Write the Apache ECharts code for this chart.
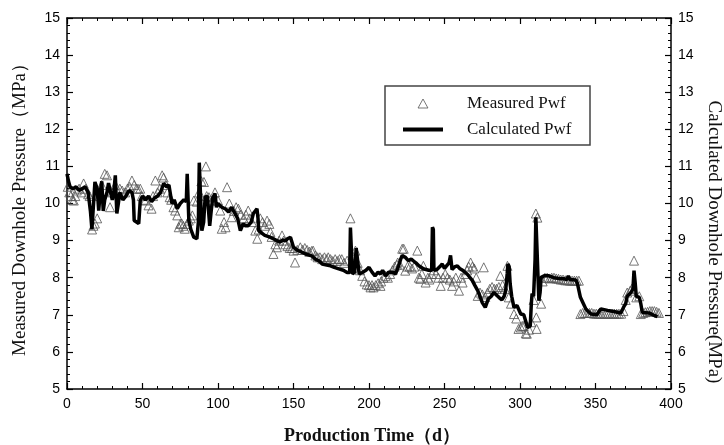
<!DOCTYPE html>
<html>
<head>
<meta charset="utf-8">
<script src="https://cdn.jsdelivr.net/npm/echarts@6/dist/echarts.min.js"></script>
<style>html,body{margin:0;padding:0;background:#fff}#c{width:724px;height:445px}</style>
</head>
<body>
<div id="c"></div>
<script>
// Measured Pwf: [day, MPa]
var measured = [[0.5,10.45],[1.5,10.3],[2.5,10.2],[3.5,10.1],[4.5,10.08],[5.5,10.2],[6.5,10.35],[8,10.4],[9.5,10.3],[11,10.54],[12.5,10.4],[14,10.25],[15,10.2],[16.6,9.3],[17.5,9.4],[18.5,9.46],[20,9.6],[21.5,10.2],[23,10.5],[25,10.8],[26.5,10.76],[28.5,9.9],[30,10.3],[32,10.5],[33.5,10.3],[35,10.4],[36.5,10.35],[38.5,10.3],[40,10.4],[41.5,10.45],[43,10.62],[44.5,10.5],[46,10.4],[47,10.4],[48.5,10.4],[49.5,10.2],[51,10.1],[52,10.08],[54,9.95],[56,9.86],[57,10.2],[58.5,10.62],[60,10.3],[61.5,10.4],[63,10.76],[64,10.7],[65.5,10.5],[66.5,10.3],[68,10.17],[69,10.1],[70.5,9.9],[71.6,9.81],[73,9.68],[74,9.36],[75,9.45],[76,9.46],[77,9.4],[78,9.32],[79.5,9.45],[80.7,9.54],[82,9.6],[83,9.68],[84,10.08],[86,10.05],[87.5,10.3],[89,10.6],[90.7,10.58],[92,11.0],[92.5,10.2],[94,10.17],[96,10.08],[98,10.3],[100,10.08],[101.5,9.81],[102.5,9.32],[104,9.5],[105,9.36],[106,10.44],[107.5,10.0],[109,9.63],[110.5,9.8],[112,9.9],[113.5,9.86],[115,9.7],[117,9.6],[118.5,9.7],[120,9.81],[121,9.6],[122.5,9.5],[124.7,9.27],[126,9.05],[127,9.3],[128,9.6],[129.5,9.5],[131,9.4],[132.5,9.54],[134,9.45],[134.7,9.23],[135.5,9.1],[136.7,8.64],[138,8.9],[139,8.82],[140.5,9.0],[142.4,9.14],[143.5,9.0],[144.6,8.9],[146,8.85],[147.5,8.8],[149,8.8],[150,8.73],[151,8.41],[152.5,8.75],[154.5,8.82],[156,8.75],[157.5,8.8],[159,8.75],[160.5,8.7],[162,8.72],[163,8.73],[164.5,8.6],[166,8.55],[167.5,8.55],[169,8.5],[170.5,8.55],[172,8.5],[173,8.55],[174.5,8.5],[176,8.45],[177.6,8.5],[179,8.45],[180.5,8.5],[182,8.5],[183.5,8.4],[185.5,8.46],[187.7,9.6],[189,8.6],[191,8.73],[192.5,8.4],[194,8.2],[195.5,8.05],[197,7.9],[198.5,7.82],[200,7.8],[201,7.74],[202,7.8],[203,7.74],[204.5,7.8],[206,7.85],[207.6,7.78],[208,7.9],[209.5,8.0],[211,8.05],[212.5,8.0],[214,8.1],[215.5,8.2],[217,8.3],[218.5,8.35],[219,8.41],[220.5,8.35],[222,8.78],[223,8.78],[224,8.19],[225.5,8.3],[227,8.3],[228.5,8.25],[230,8.3],[232,8.73],[233,8.0],[234,7.97],[235,8.1],[236,8.32],[237.5,7.87],[239,8.0],[240,7.95],[241.5,8.1],[243,8.2],[244.5,8.1],[246,8.0],[247.5,7.78],[249,8.0],[250.5,8.1],[252,8.0],[253.5,7.95],[255,7.78],[256,7.9],[257.5,8.0],[259.6,7.65],[261,8.0],[262,7.87],[263.5,8.1],[265,8.2],[266,8.3],[267.3,8.41],[268.5,8.3],[269.7,8.25],[271,8.0],[272,7.51],[273.5,7.6],[275,7.55],[276,8.28],[277,7.48],[278.5,7.6],[280,7.7],[281.5,7.75],[283,7.7],[284.5,7.7],[286,7.75],[287,8.05],[288.5,7.8],[290,7.7],[291.7,8.32],[292.6,7.47],[294,7.3],[296,7.02],[297.5,6.9],[299,6.62],[300.5,6.66],[301.5,6.7],[302.5,6.7],[303.8,6.5],[304.5,6.49],[306,6.6],[307.5,6.8],[309,7.4],[310.5,9.73],[311.5,9.62],[310.8,6.93],[311,6.62],[314,7.3],[315,7.9],[316.5,8.0],[318,8.0],[319.5,7.98],[321,8.0],[322.5,8.0],[324,7.98],[325.5,7.97],[327,7.95],[328.5,7.95],[330,7.93],[331.5,7.93],[333,7.92],[334.5,7.92],[336,7.92],[337.5,7.92],[339,7.92],[340,7.02],[341.5,7.05],[343,7.05],[344.5,7.05],[346,7.05],[347.5,7.05],[349,7.03],[350.5,7.03],[352,7.03],[353.5,7.03],[355,7.03],[356.5,7.03],[358,7.03],[359.5,7.03],[361,7.03],[362.5,7.03],[364,7.03],[365.5,7.03],[367,7.03],[368.5,7.1],[370,7.4],[371,7.6],[373,7.65],[374,7.7],[375.5,8.46],[377,7.47],[379,7.5],[380,7.02],[381.5,7.05],[383,7.07],[384.5,7.08],[386,7.1],[387.5,7.1],[389,7.1],[390.5,7.08],[392,7.05]];

// Calculated Pwf: [day, MPa]
var calculated = [[0,10.8],[1,10.6],[2,10.45],[4,10.4],[6,10.45],[8,10.35],[10,10.4],[12,10.45],[14,10.3],[15.5,9.8],[16.5,9.3],[17.5,9.35],[18.5,10.58],[20,10.4],[21,9.81],[22,10.3],[23,10.6],[24,9.8],[25,10.1],[26.5,10.3],[27.5,10.55],[28.6,10.5],[30,10.1],[31,10.3],[32,10.76],[33,9.73],[34,10.0],[35,10.3],[37,10.1],[39,10.2],[41,10.35],[43,10.3],[44,10.1],[44.5,9.54],[46,9.5],[47.5,9.46],[48.5,10.08],[50,10.2],[52,10.1],[54,10.2],[56,10.05],[58,10.15],[60,10.2],[62,10.3],[64,10.54],[66,10.45],[67.5,10.5],[69.5,10.0],[71,10.1],[73,9.86],[75,10.0],[77.4,10.1],[79,10.05],[79.6,10.8],[80.3,10.8],[80.7,9.54],[82,9.3],[84,9.09],[86,9.05],[87,9.5],[87.6,11.1],[88.3,11.12],[89.3,9.27],[90.5,9.5],[91.5,10.17],[93,10.2],[94.5,9.4],[95.5,9.8],[96.5,10.15],[98,10.27],[99,9.9],[100,10.0],[102.6,9.9],[105,9.85],[107,9.77],[109,9.9],[111.4,9.72],[113,9.6],[114.8,9.27],[116.7,9.46],[118,9.4],[120,9.4],[122,9.5],[123.4,9.73],[125.8,9.86],[126.5,9.6],[127,9.27],[129,9.2],[131,9.14],[134,9.1],[136.6,9.05],[139,9.0],[141,8.96],[143,9.02],[144.6,8.99],[146,9.05],[148,9.09],[150,8.82],[153,8.73],[155,8.7],[158,8.64],[162,8.59],[164.5,8.5],[167,8.45],[169,8.37],[172,8.34],[174.5,8.32],[177,8.28],[180,8.24],[183,8.2],[185.5,8.14],[187.2,8.14],[187.7,9.35],[188.5,9.3],[189,8.1],[190.5,8.15],[191.5,8.8],[192.5,8.8],[193.5,8.1],[195.5,8.14],[198,8.2],[200,8.28],[202,8.15],[204,8.05],[206,8.15],[207.6,8.1],[209,8.2],[211,8.05],[213,8.15],[214,8.2],[216,8.15],[217.6,8.1],[219.6,8.32],[221,8.5],[222,8.6],[224,8.55],[226,8.46],[228,8.5],[229.5,8.45],[231,8.4],[233,8.32],[236,8.24],[239.5,8.2],[241.5,8.2],[242,9.36],[242.6,9.3],[243,8.2],[245,8.22],[247,8.3],[248.5,8.37],[250,8.25],[251,8.2],[253,8.4],[254,8.6],[254.5,8.6],[255,8.22],[257,8.3],[258.5,8.32],[260,8.25],[262,8.2],[265,8.1],[268.5,7.92],[270,7.8],[272,7.65],[273.5,7.5],[275,7.33],[277,7.2],[279,7.43],[281,7.5],[282.6,7.6],[284,7.55],[286,7.47],[288,7.4],[289.5,7.5],[290.5,7.65],[291.5,8.1],[292,8.37],[292.8,8.3],[293.5,7.83],[294.5,7.5],[296,7.2],[298,7.25],[300.5,7.02],[302.5,7.0],[304,6.8],[305,6.66],[306,6.65],[306.8,6.7],[307.5,7.3],[308,7.57],[309,7.5],[310,8.5],[310.5,9.63],[311.5,9.6],[312.5,7.38],[313.3,7.6],[314,8.01],[316,8.05],[319,8.05],[322.5,8.0],[326,7.98],[329,7.97],[331,7.95],[332,8.05],[333,7.95],[334,7.97],[337,7.94],[338,7.85],[340,7.47],[342,7.3],[343.6,7.16],[345,7.1],[347,7.02],[351,7.0],[352,7.05],[353.5,7.16],[358,7.12],[362,7.09],[366.8,7.05],[368,7.1],[369,7.24],[370,7.3],[371,7.5],[372,7.55],[373.5,7.6],[374.8,7.7],[375.5,8.19],[376.2,7.9],[377,7.5],[378,7.55],[379,7.47],[380,7.3],[381,7.06],[385.5,7.05],[388,7.0],[391,6.95]];

var xTicks = {min: 0, max: 400, step: 50};
var yTicks = {min: 5, max: 15, step: 1};
var seriesNames = ['Measured Pwf', 'Calculated Pwf'];
var axisTitles = {x: 'Production Time（d）', yLeft: 'Measured Downhole Pressure（MPa）', yRight: 'Calculated Downhole Pressure(MPa)'};

var serif = 'Liberation Serif, Times New Roman, serif';
var sans = 'Liberation Sans, Arial, sans-serif';

function xAx(pos, showLabel) {
  return {
    type: 'value', position: pos, min: xTicks.min, max: xTicks.max, interval: xTicks.step,
    axisLine: {show: true, onZero: false, lineStyle: {color: '#000', width: 1.5}},
    axisTick: {show: true, inside: true, length: 6, lineStyle: {color: '#000', width: 1.2}},
    minorTick: {show: true, splitNumber: 5, length: 3, lineStyle: {color: '#000', width: 1}},
    axisLabel: {show: showLabel, color: '#000', fontFamily: sans, fontSize: 14, margin: 8},
    splitLine: {show: false}
  };
}
function yAx(pos) {
  return {
    type: 'value', position: pos, min: yTicks.min, max: yTicks.max, interval: yTicks.step,
    axisLine: {show: true, onZero: false, lineStyle: {color: '#000', width: 1.5}},
    axisTick: {show: true, inside: true, length: 6, lineStyle: {color: '#000', width: 1.2}},
    minorTick: {show: true, splitNumber: 5, length: 3, lineStyle: {color: '#000', width: 1}},
    axisLabel: {show: true, color: '#000', fontFamily: sans, fontSize: 14, margin: 7},
    splitLine: {show: false}
  };
}

var chart = echarts.init(document.getElementById('c'), null, {renderer: 'canvas'});
chart.setOption({
  backgroundColor: '#fff',
  animation: false,
  grid: {left: 67, right: 53, top: 18, bottom: 56},
  xAxis: [xAx('bottom', true), xAx('top', false)],
  yAxis: [yAx('left'), yAx('right')],
  legend: {
    orient: 'vertical', left: 403, top: 95, itemWidth: 40, itemHeight: 9, itemGap: 9,
    padding: 0, symbolKeepAspect: true,
    textStyle: {fontFamily: serif, fontSize: 17, color: '#111', padding: [0, 0, 0, 19]},
    data: [
      {name: seriesNames[0], icon: 'path://M0,10 L5.5,0 L11,10 Z',
       itemStyle: {color: 'rgba(255,255,255,0)', borderColor: '#555', borderWidth: 1}},
      {name: seriesNames[1], icon: 'path://M0,0 L40,0 L40,4 L0,4 Z',
       itemStyle: {color: '#000', borderWidth: 0}}
    ]
  },
  graphic: [
    {type: 'rect', z: -1, shape: {x: 385, y: 86, width: 205, height: 59},
     style: {fill: '#fff', stroke: '#444', lineWidth: 1.5}},
    {type: 'text', x: 20, y: 205, rotation: Math.PI / 2,
     style: {text: axisTitles.yLeft, font: '19px ' + serif, fill: '#111', textAlign: 'center', textVerticalAlign: 'middle'}},
    {type: 'text', x: 714, y: 242, rotation: -Math.PI / 2,
     style: {text: axisTitles.yRight, font: '19px ' + serif, fill: '#111', textAlign: 'center', textVerticalAlign: 'middle'}},
    {type: 'text', x: 372, y: 436,
     style: {text: axisTitles.x, font: 'bold 18px ' + serif, fill: '#111', textAlign: 'center', textVerticalAlign: 'middle'}}
  ],
  series: [
    {name: seriesNames[0], type: 'scatter', data: measured, symbol: 'triangle', symbolSize: 9, z: 2,
     itemStyle: {color: 'rgba(255,255,255,0)', borderColor: '#555', borderWidth: 1}},
    {name: seriesNames[1], type: 'line', data: calculated, showSymbol: false, symbol: 'none', z: 3,
     lineStyle: {color: '#000', width: 3.5}, itemStyle: {color: '#000'}}
  ]
});
</script>
</body>
</html>
